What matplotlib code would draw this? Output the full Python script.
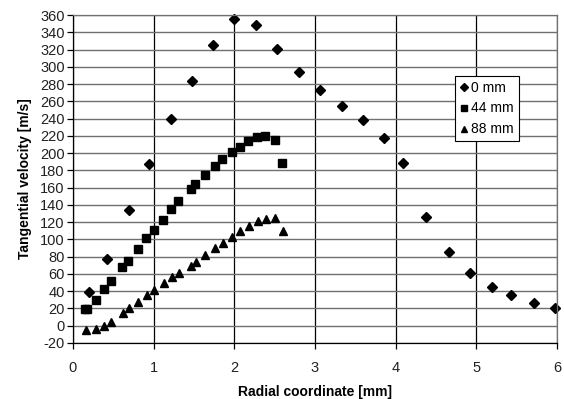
import numpy as np
import matplotlib
matplotlib.use("Agg")
import matplotlib.pyplot as plt

plt.rcParams['font.family'] = ['Liberation Sans', 'DejaVu Sans']
plt.rcParams['axes.unicode_minus'] = False

# 0 mm
r0 = [0.20, 0.42, 0.69, 0.94, 1.21, 1.47, 1.73, 2.00, 2.27, 2.53, 2.80,
      3.06, 3.33, 3.59, 3.86, 4.09, 4.37, 4.66, 4.92, 5.19, 5.43, 5.71, 5.97]
v0 = [39, 77, 134, 187, 240, 284, 325, 355, 348, 321, 294,
      273, 255, 238, 217, 188, 126, 85, 61, 45, 36, 26, 21]

# 44 mm
r44 = [0.15, 0.17, 0.28, 0.38, 0.47, 0.61, 0.68, 0.80, 0.91, 1.00, 1.12, 1.22,
       1.30, 1.46, 1.51, 1.64, 1.76, 1.85, 1.97, 2.07, 2.17, 2.28, 2.38, 2.50, 2.59]
v44 = [19, 19, 30, 42, 52, 68, 75, 89, 102, 111, 123, 135,
       144, 158, 164, 175, 185, 193, 201, 207, 214, 219, 220, 215, 188]

# 88 mm
r88 = [0.16, 0.28, 0.38, 0.47, 0.62, 0.69, 0.81, 0.92, 1.01, 1.13, 1.23, 1.31,
       1.46, 1.52, 1.64, 1.76, 1.86, 1.97, 2.07, 2.18, 2.29, 2.39, 2.50, 2.60]
v88 = [-5, -4, 0, 4, 15, 20, 28, 36, 41, 49, 56, 61,
       69, 74, 82, 90, 96, 103, 110, 116, 121, 124, 125, 110]

fig = plt.figure(figsize=(5.64, 3.99), dpi=100)
ax = fig.add_axes([0.1294, 0.1404, 0.8582, 0.822])

ax.plot(r0, v0, 'kD', ms=5, label='0 mm', clip_on=False)
ax.plot(r44, v44, 'ks', ms=5.5, label='44 mm', clip_on=False)
ax.plot(r88, v88, 'k^', ms=6, label='88 mm', clip_on=False)

ax.set_xlim(0, 6)
ax.set_ylim(-20, 360)
ax.set_xticks(np.arange(0, 7, 1))
ax.set_yticks(np.arange(-20, 361, 20))
ax.grid(axis='y', color='#707070', lw=1.0)
ax.grid(axis='x', color='black', lw=0.9)
ax.set_axisbelow(True)
for s in ax.spines.values():
    s.set_linewidth(0.9)
ax.spines['top'].set_color('#707070')
ax.spines['right'].set_color('#707070')
ax.tick_params(direction='out', length=4, width=0.9, labelsize=10.5, pad=2,
               colors='black', labelcolor='#222222')
ax.tick_params(axis='x', pad=9)

ax.set_xlabel('Radial coordinate [mm]', fontsize=10, fontweight='bold', labelpad=7)
ax.set_ylabel('Tangential velocity [m/s]', fontsize=10, fontweight='bold', labelpad=6)

leg = ax.legend(loc='upper left', bbox_to_anchor=(0.79, 0.815), borderaxespad=0,
                fancybox=False, framealpha=1, edgecolor='black', fontsize=10,
                handlelength=0.6, handletextpad=0.2, borderpad=0.35, labelspacing=0.5,
                markerscale=0.8)
leg.get_frame().set_linewidth(0.8)

fig.savefig('out.png', dpi=100)
